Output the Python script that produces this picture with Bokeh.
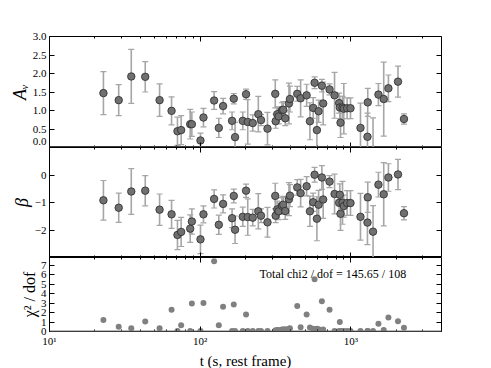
from bokeh.plotting import figure
from bokeh.models import (ColumnDataSource, Range1d, LogAxis, LinearAxis, FixedTicker,
                          LogTicker, Label, Span, CustomJSTickFormatter)
from bokeh.layouts import column
from bokeh.embed import file_html
from bokeh.resources import INLINE

# ---------------- data ----------------
t = [22.8, 28.8, 34.9, 43.2, 53.8, 64.6, 70.7, 74.8, 85.9, 88.1,
     100.5, 105.2, 123.8, 133.0, 142.0, 162.9, 167.2, 170.5, 191.8, 201.7,
     207.0, 223.4, 243.3, 253.5, 279.9, 315.2, 317.1, 325.0, 332.0, 349.1,
     356.2, 367.2, 388.5, 394.5, 441.0, 464.5, 509.0, 535.3, 562.9, 575.0,
     595.6, 611.3, 642.7, 655.6, 722.6, 780.0, 836.6, 845.6, 854.7, 881.1,
     898.7, 945.2, 995.4, 1159.5, 1290.0, 1296.0, 1405.0, 1525.5, 1654.0, 1777.0,
     2057.0, 2254.0]
av = [1.47, 1.28, 1.92, 1.91, 1.28, 0.99, 0.44, 0.47, 0.63, 0.63,
      0.19, 0.81, 1.27, 0.53, 1.12, 0.72, 1.32, 0.28, 0.72, 1.44,
      0.69, 0.66, 0.90, 0.74, 0.51, 1.45, 0.71, 0.90, 0.84, 1.01,
      1.02, 0.79, 1.19, 1.31, 1.45, 1.33, 1.41, 0.71, 1.07, 1.75,
      0.47, 0.98, 1.67, 1.19, 1.57, 1.41, 1.20, 1.08, 0.67, 1.08,
      1.05, 1.06, 1.06, 0.53, 0.29, 1.22, -0.10, 1.43, 1.31, 1.60,
      1.78, 0.77]
av_err = [0.58, 0.42, 0.73, 0.41, 0.44, 0.38, 0.38, 0.39, 0.40, 0.33,
          0.20, 0.25, 0.24, 0.26, 0.21, 0.24, 0.14, 0.40, 0.24, 0.14,
          0.60, 0.22, 0.48, 0.15, 0.44, 0.38, 0.19, 0.20, 0.20, 0.20,
          0.22, 0.20, 0.55, 0.35, 0.20, 0.50, 0.30, 0.50, 0.28, 0.16,
          0.50, 0.30, 0.17, 0.58, 0.15, 0.62, 0.27, 0.30, 0.40, 0.30,
          0.68, 0.28, 0.28, 0.67, 0.64, 0.38, 0.90, 0.30, 1.00, 0.36,
          0.42, 0.14]
beta = [-0.92, -1.19, -0.60, -0.57, -1.26, -1.43, -2.18, -2.07, -1.95, -1.69,
        -2.34, -1.43, -0.87, -1.81, -1.05, -1.57, -0.76, -1.99, -1.52, -0.57,
        -1.53, -1.55, -1.32, -1.48, -1.72, -0.76, -1.48, -1.25, -1.32, -1.12,
        -1.08, -1.31, -0.88, -0.75, -0.45, -0.66, -0.41, -1.32, -0.99, 0.01,
        -1.59, -1.08, -0.09, -0.89, -0.24, -0.69, -1.01, -0.72, -1.41, -1.01,
        -1.13, -1.02, -1.02, -1.52, -1.73, -0.81, -2.06, -0.35, -0.70, -0.09,
        0.02, -1.39]
beta_err = [0.72, 0.53, 0.83, 0.55, 0.57, 0.51, 0.53, 0.53, 0.50, 0.46,
            0.52, 0.31, 0.33, 0.35, 0.33, 0.34, 0.25, 0.50, 0.35, 0.24,
            0.66, 0.30, 0.64, 0.25, 0.54, 0.46, 0.25, 0.30, 0.30, 0.30,
            0.30, 0.30, 0.60, 0.40, 0.28, 0.50, 0.35, 0.55, 0.33, 0.27,
            0.80, 0.52, 0.43, 0.69, 0.22, 0.72, 0.40, 0.40, 0.60, 0.78,
            0.40, 0.45, 0.45, 0.85, 0.80, 0.55, 0.95, 0.45, 1.15, 0.50,
            0.55, 0.24]
chi2 = [1.20, 0.50, 0.35, 1.05, 0.35, 2.30, 0.05, 0.65, 0.05, 2.95,
        0.05, 3.00, 7.40, 0.67, 2.60, 0.05, 2.85, 0.05, 0.05, 1.78,
        0.05, 0.05, 0.05, 0.05, 0.05, 0.10, 0.10, 0.15, 0.15, 0.20,
        0.20, 0.25, 0.30, 0.35, 2.70, 0.45, 1.80, 0.43, 0.30, 5.50,
        0.30, 0.25, 3.20, 0.20, 2.30, 0.05, 0.05, 1.00, 0.05, 0.05,
        0.05, 0.05, 0.05, 0.05, 0.05, 0.05, 0.05, 0.81, 0.15, 1.48,
        1.09, 0.39]
chi_total = "Total chi2 / dof = 145.65 / 108"

av_ticks = [0.5, 1.0, 1.5, 2.0, 2.5, 3.0]
beta_ticks = [-2, -1, 0]
chi_ticks = [0, 1, 2, 3, 4, 5, 6, 7]
x_tick_labels = {10: "10\u00b9", 100: "10\u00b2", 1000: "10\u00b3"}

# ---------------- sources ----------------
src = ColumnDataSource(dict(
    t=t, av=av, beta=beta, chi2=chi2,
    av_lo=[a - e for a, e in zip(av, av_err)], av_hi=[a + e for a, e in zip(av, av_err)],
    b_lo=[b - e for b, e in zip(beta, beta_err)], b_hi=[b + e for b, e in zip(beta, beta_err)],
))

FONT = "Liberation Serif"
xr = Range1d(10, 4000)
ERR_C = "#a6a6a6"
PT_FILL = "#707070"
PT_LINE = "#2a2a2a"


def style_axis(ax, labels=True, minor=True):
    ax.major_tick_in = 5
    ax.major_tick_out = 0
    ax.minor_tick_in = 2 if minor else 0
    ax.minor_tick_out = 0
    ax.axis_line_color = "black"
    ax.major_tick_line_color = "black"
    ax.minor_tick_line_color = "black"
    ax.major_label_text_font = FONT
    ax.major_label_text_font_size = "11px"
    ax.major_label_standoff = 3
    ax.major_label_text_color = "black" if labels else None
    ax.axis_label_text_font = FONT
    ax.axis_label_text_color = "black"
    ax.axis_label_standoff = 0


def make_fig(frame_h, yr, ylo, yhi, yticks, ylabel, ylabel_size, ylabel_style,
             top=0, bottom=0, xlabels=False):
    p = figure(frame_width=392, frame_height=frame_h, x_axis_type="log", x_range=xr,
               y_range=yr, output_backend="svg", toolbar_location=None,
               min_border_left=49, min_border_right=42, min_border_top=top,
               min_border_bottom=bottom)
    p.outline_line_color = "black"
    p.outline_line_width = 1
    p.xgrid.visible = False
    p.ygrid.visible = False
    p.background_fill_color = "white"
    p.border_fill_color = "white"
    xt = LogTicker(num_minor_ticks=10)
    bottom_ax = p.below[0]
    bottom_ax.ticker = xt
    style_axis(bottom_ax, labels=xlabels)
    if xlabels:
        bottom_ax.major_label_overrides = x_tick_labels
    else:
        bottom_ax.fixed_location = ylo
    top_ax = LogAxis(ticker=xt, fixed_location=yhi)
    style_axis(top_ax, labels=False)
    p.add_layout(top_ax, "above")
    yt = FixedTicker(ticks=yticks)
    left_ax = p.left[0]
    left_ax.ticker = yt
    style_axis(left_ax, labels=True, minor=False)
    left_ax.axis_label = ylabel
    left_ax.axis_label_text_font_size = ylabel_size
    left_ax.axis_label_text_font_style = ylabel_style
    right_ax = LinearAxis(ticker=yt, fixed_location=4000)
    style_axis(right_ax, labels=False, minor=False)
    p.add_layout(right_ax, "right")
    return p, bottom_ax, left_ax


def errorbars(p, lo, hi, y):
    p.segment(x0="t", x1="t", y0=lo, y1=hi, source=src, line_color=ERR_C, line_width=1.6)
    p.scatter(x="t", y=lo, source=src, marker="dash", size=6, line_color=ERR_C, line_width=1.2)
    p.scatter(x="t", y=hi, source=src, marker="dash", size=6, line_color=ERR_C, line_width=1.2)
    p.scatter(x="t", y=y, source=src, marker="circle", size=7.5, fill_color=PT_FILL,
              line_color=PT_LINE, line_width=0.8)


# ---------------- A_V panel ----------------
p1, _, l1 = make_fig(111, Range1d(0, 3.0), 0, 3.0, av_ticks, "A\u1d65", "18px", "italic", top=36)
# the "0.0" label is lifted just above the panel edge so that it is not cut off
l1.ticker = FixedTicker(ticks=[0.15] + av_ticks)
l1.formatter = CustomJSTickFormatter(code="return tick < 0.3 ? '0.0' : tick.toFixed(1)")
l1.major_tick_in = 0
tick_ax = LinearAxis(ticker=FixedTicker(ticks=av_ticks), fixed_location=10)
style_axis(tick_ax, labels=False, minor=False)
p1.add_layout(tick_ax, "left")
errorbars(p1, "av_lo", "av_hi", "av")
p1.add_layout(Span(location=0, dimension="width", line_color="#7a7a7a", line_width=2))

# ---------------- beta panel ----------------
p2, _, l2 = make_fig(110, Range1d(-3, 1), -3, 1, beta_ticks, "\u03b2", "18px", "italic")
l2.major_label_overrides = {-2: "\u22122", -1: "\u22121", 0: "0"}
errorbars(p2, "b_lo", "b_hi", "beta")

# ---------------- chi2 panel ----------------
p3, b3, _ = make_fig(74, Range1d(0, 7.8), 0, 7.8, chi_ticks, "\u03c7\u00b2 / dof", "16px",
                     "normal", bottom=30, xlabels=True)
b3.axis_label = "t (s, rest frame)"
b3.axis_label_text_font_size = "15px"
b3.axis_label_text_font_style = "normal"
b3.axis_label_standoff = 3
p3.scatter(x="t", y="chi2", source=src, marker="circle", size=6, fill_color="#808080",
           line_color=None)
p3.add_layout(Span(location=0, dimension="width", line_color="#7a7a7a", line_width=2))
p3.add_layout(Label(x=760, y=6.08, text=chi_total, text_align="center", text_baseline="middle",
                    text_font=FONT, text_font_size="12px", text_color="black"))

layout = column(p1, p2, p3, spacing=0)
open("out.html", "w").write(file_html(layout, INLINE))
